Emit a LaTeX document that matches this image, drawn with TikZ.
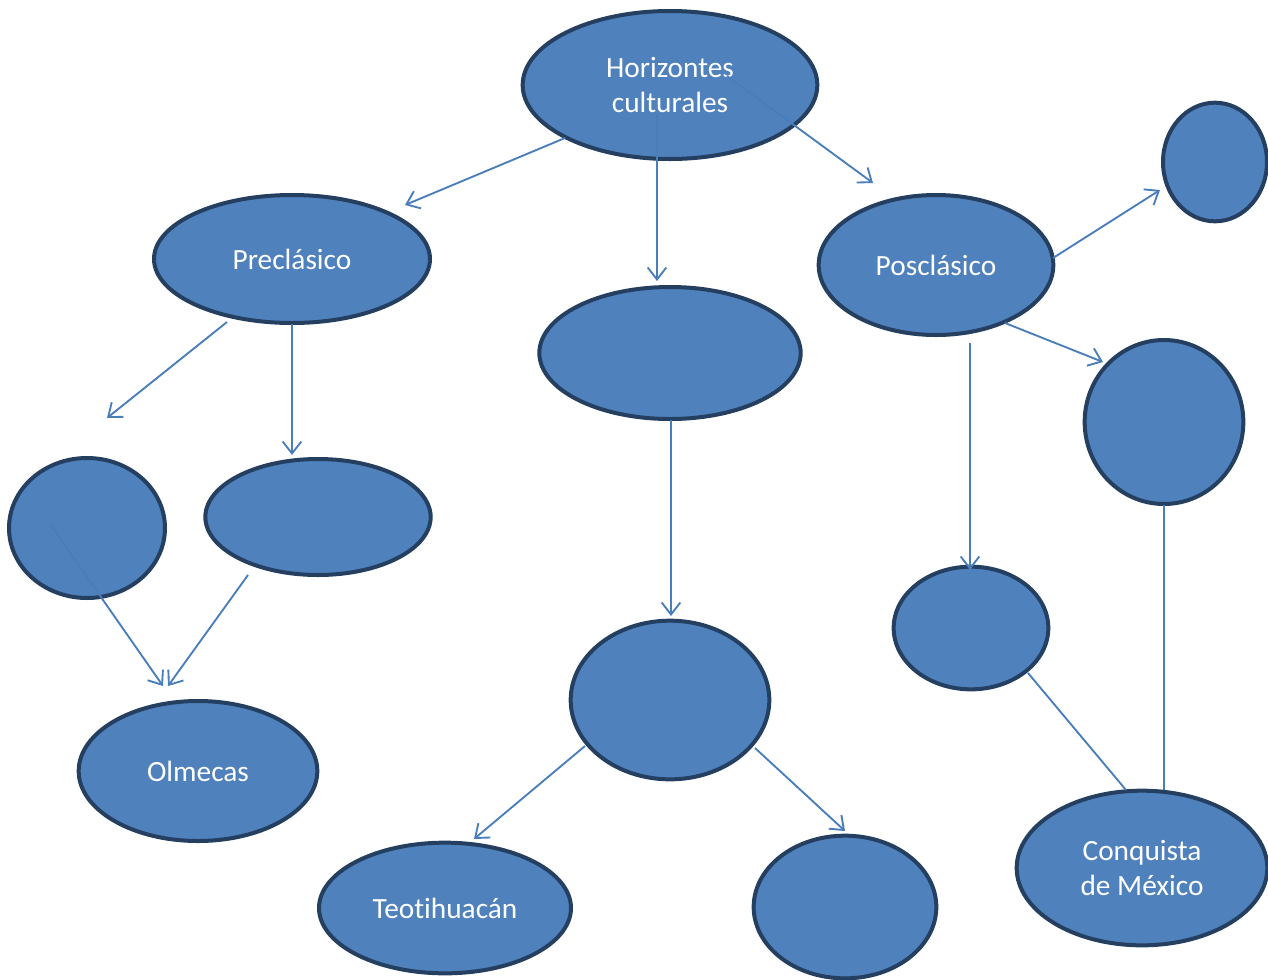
\documentclass[tikz,border=0pt]{standalone}
\usepackage{fontspec}
\setmainfont[Ligatures={NoCommon}]{Carlito}
\usetikzlibrary{arrows.meta,shapes.geometric}
\definecolor{blobfill}{HTML}{4F81BD}
\definecolor{blobline}{HTML}{243F60}
\definecolor{arrline}{HTML}{4A7EBB}
\begin{document}
\begin{tikzpicture}[x=0.75pt,y=-0.75pt,
  blob/.style={ellipse,draw=blobline,line width=3pt,fill=blobfill,inner sep=0pt,
    text=white,font=\fontsize{22}{26.5}\selectfont,align=center},
  arr/.style={draw=arrline,line width=1.4pt,-{Straight Barb[length=9pt,width=14pt,line width=1.4pt]}},
  plain/.style={draw=arrline,line width=1.4pt}]
\useasboundingbox (0,0) rectangle (1268,979);
% nodes (w,h in pt = px*0.75)
\node[blob,minimum width=221pt,minimum height=111pt] (hor) at (670,85) {Horizontes\\culturales};
\node[blob,minimum width=207pt,minimum height=96pt] (pre) at (292,259) {Preclásico};
\node[blob,minimum width=196pt,minimum height=99pt] (cla) at (670,353) {};
\node[blob,minimum width=176pt,minimum height=105pt] (pos) at (936,265) {Posclásico};
\node[blob,minimum width=78pt,minimum height=89pt] (tr) at (1215,162) {};
\node[blob,minimum width=119pt,minimum height=123pt] (rc) at (1164,422) {};
\node[blob,minimum width=117pt,minimum height=105pt] (ls) at (87,528) {};
\node[blob,minimum width=169pt,minimum height=87pt] (ml) at (318,517) {};
\node[blob,minimum width=179pt,minimum height=105pt] (olm) at (198,771) {Olmecas};
\node[blob,minimum width=149pt,minimum height=119pt] (mc) at (670,700) {};
\node[blob,minimum width=189pt,minimum height=98pt] (teo) at (445,908) {Teotihuacán};
\node[blob,minimum width=137pt,minimum height=107pt] (bm) at (845,907) {};
\node[blob,minimum width=116pt,minimum height=92pt] (rs) at (971,628) {};
\node[blob,minimum width=188pt,minimum height=116pt] (con) at (1142,868) {Conquista\\de México};
% connector end points
\coordinate (h1) at (565,138); \coordinate (h1e) at (405,205);
\coordinate (h2) at (657,113); \coordinate (h2e) at (657,281);
\coordinate (h3) at (727,76);  \coordinate (h3e) at (873,183);
\coordinate (p1) at (227,322); \coordinate (p1e) at (107,418);
\coordinate (p2) at (292,324); \coordinate (p2e) at (292,455);
\coordinate (l1) at (50,524);  \coordinate (l1e) at (163,686);
\coordinate (m1) at (248,575); \coordinate (m1e) at (168,686);
\coordinate (c1) at (671,420); \coordinate (c1e) at (671,616);
\coordinate (q1) at (1053,258); \coordinate (q1e) at (1160,190);
\coordinate (q2) at (1005,323); \coordinate (q2e) at (1103,362);
\coordinate (q3) at (970,343); \coordinate (q3e) at (970,570);
\coordinate (k1) at (585,746); \coordinate (k1e) at (474,839);
\coordinate (k2) at (755,748); \coordinate (k2e) at (845,831);
\coordinate (r1) at (1028,673); \coordinate (r1e) at (1126,790);
\coordinate (r2) at (1164,505); \coordinate (r2e) at (1164,790);
% connectors
\draw[arr] (h1) -- (h1e);
\draw[arr] (h2) -- (h2e);
\draw[arr] (h3) -- (h3e);
\draw[arr] (p1) -- (p1e);
\draw[arr] (p2) -- (p2e);
\draw[arr] (l1) -- (l1e);
\draw[arr] (m1) -- (m1e);
\draw[arr] (c1) -- (c1e);
\draw[arr] (q1) -- (q1e);
\draw[arr] (q2) -- (q2e);
\draw[arr] (q3) -- (q3e);
\draw[arr] (k1) -- (k1e);
\draw[arr] (k2) -- (k2e);
\draw[plain] (r1) -- (r1e);
\draw[plain] (r2) -- (r2e);
\end{tikzpicture}
\end{document}
